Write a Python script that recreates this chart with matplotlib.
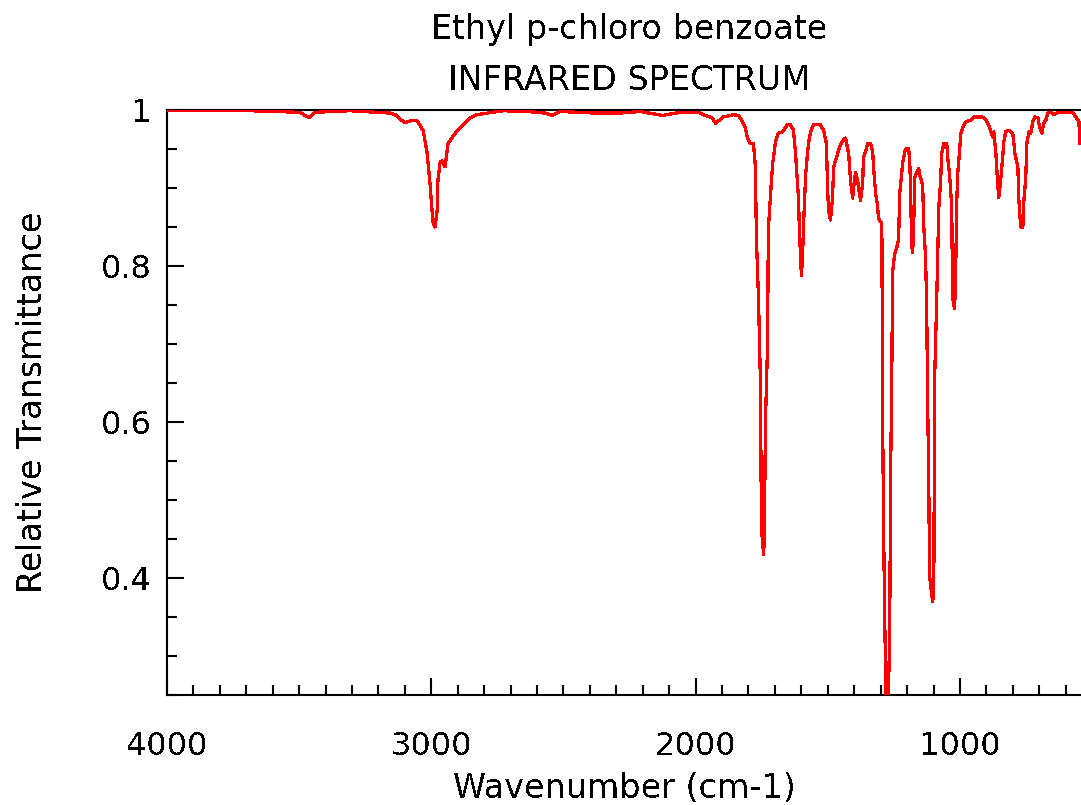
import numpy as np
import matplotlib
matplotlib.use("Agg")
import matplotlib.pyplot as plt
from matplotlib.ticker import MultipleLocator, FixedLocator

plt.rcParams['font.family'] = ['DejaVu Sans']
plt.rcParams['text.antialiased'] = False

# wavenumber (cm-1) and relative transmittance
wavenumber = [4000, 3876, 3687, 3497, 3463, 3440, 3308, 3156, 3137, 3118,
              3099, 3088, 3069, 3054, 3031, 3016, 3005, 2997, 2993, 2986,
              2978, 2975, 2967, 2959, 2948, 2937, 2910, 2884, 2853, 2827,
              2728, 2637, 2569, 2543, 2512, 2380, 2285, 2209, 2126, 2058,
              1990, 1971, 1937, 1925, 1914, 1895, 1857, 1838, 1823, 1812,
              1804, 1793, 1781, 1774, 1770, 1762, 1755, 1751, 1743, 1740,
              1736, 1728, 1725, 1717, 1709, 1698, 1687, 1671, 1653, 1641,
              1630, 1622, 1611, 1607, 1600, 1596, 1592, 1584, 1577, 1573,
              1565, 1554, 1528, 1516, 1505, 1501, 1497, 1490, 1482, 1478,
              1463, 1452, 1440, 1433, 1421, 1414, 1406, 1402, 1395, 1387,
              1384, 1376, 1368, 1365, 1357, 1349, 1338, 1330, 1327, 1319,
              1312, 1308, 1296, 1295, 1293, 1289, 1285, 1278, 1274, 1270,
              1266, 1262, 1258, 1255, 1247, 1240, 1232, 1228, 1221, 1217,
              1209, 1202, 1194, 1190, 1187, 1183, 1179, 1175, 1171, 1164,
              1156, 1152, 1141, 1137, 1130, 1126, 1122, 1118, 1115, 1107,
              1103, 1099, 1097, 1096, 1088, 1080, 1073, 1069, 1061, 1050,
              1046, 1039, 1031, 1028, 1020, 1016, 1012, 1008, 1001, 997,
              989, 982, 970, 959, 948, 914, 902, 891, 876, 872,
              864, 857, 853, 846, 838, 834, 827, 815, 800, 792,
              781, 777, 770, 762, 758, 751, 747, 739, 732, 724,
              717, 705, 698, 690, 683, 675, 668, 656, 645, 626,
              573, 562, 550, 546]
transmittance = [1.000, 0.999, 0.999, 0.997, 0.990, 0.997, 0.999, 0.996, 0.994, 0.988,
                 0.984, 0.985, 0.987, 0.986, 0.974, 0.945, 0.906, 0.870, 0.855, 0.850,
                 0.871, 0.910, 0.933, 0.935, 0.927, 0.957, 0.970, 0.980, 0.990, 0.994,
                 0.999, 0.998, 0.996, 0.993, 0.998, 0.996, 0.996, 0.998, 0.993, 0.997,
                 0.997, 0.994, 0.990, 0.983, 0.986, 0.991, 0.994, 0.993, 0.985, 0.977,
                 0.964, 0.957, 0.957, 0.927, 0.835, 0.756, 0.653, 0.464, 0.430, 0.451,
                 0.599, 0.698, 0.846, 0.890, 0.930, 0.959, 0.970, 0.972, 0.981, 0.981,
                 0.974, 0.944, 0.887, 0.842, 0.788, 0.807, 0.850, 0.916, 0.944, 0.957,
                 0.972, 0.981, 0.981, 0.974, 0.957, 0.901, 0.871, 0.859, 0.887, 0.927,
                 0.944, 0.955, 0.962, 0.964, 0.944, 0.910, 0.887, 0.901, 0.920, 0.910,
                 0.901, 0.884, 0.906, 0.940, 0.946, 0.957, 0.957, 0.946, 0.927, 0.893,
                 0.878, 0.861, 0.855, 0.826, 0.620, 0.470, 0.353, 0.220, 0.220, 0.263,
                 0.322, 0.543, 0.653, 0.792, 0.816, 0.822, 0.835, 0.893, 0.916, 0.932,
                 0.946, 0.951, 0.951, 0.933, 0.904, 0.829, 0.817, 0.852, 0.913, 0.920,
                 0.925, 0.916, 0.904, 0.852, 0.810, 0.752, 0.620, 0.524, 0.404, 0.379,
                 0.370, 0.387, 0.540, 0.653, 0.756, 0.875, 0.910, 0.944, 0.957, 0.957,
                 0.938, 0.916, 0.875, 0.759, 0.745, 0.797, 0.884, 0.920, 0.949, 0.970,
                 0.978, 0.983, 0.986, 0.987, 0.991, 0.991, 0.987, 0.981, 0.965, 0.972,
                 0.944, 0.904, 0.888, 0.910, 0.940, 0.959, 0.972, 0.974, 0.970, 0.944,
                 0.927, 0.884, 0.850, 0.850, 0.884, 0.913, 0.957, 0.972, 0.970, 0.985,
                 0.991, 0.990, 0.977, 0.970, 0.983, 0.987, 0.996, 0.997, 0.994, 0.997,
                 0.997, 0.991, 0.985, 0.957]

y_ticks = [0.4, 0.6, 0.8, 1.0]
y_ticklabels = ['0.4', '0.6', '0.8', '1']
x_ticks = [4000, 3000, 2000, 1000]

fig = plt.figure(figsize=(10.81, 8.05), dpi=100)
ax = fig.add_axes([0.1545, 0.1366, 0.8455, 0.7268])

ax.plot(wavenumber, transmittance, color='#ff0000', lw=1.6,
        antialiased=False, zorder=3)

ax.set_xlim(4000, 542)
ax.set_ylim(0.25, 1.0)

ax.xaxis.set_major_locator(FixedLocator(x_ticks))
ax.xaxis.set_minor_locator(MultipleLocator(100))
ax.set_yticks(y_ticks)
ax.set_yticklabels(y_ticklabels)
ax.yaxis.set_minor_locator(MultipleLocator(0.05))

ax.tick_params(which='both', direction='in', width=1.5, labelsize=23)
ax.tick_params(which='major', length=12)
ax.tick_params(which='minor', length=7)
ax.tick_params(axis='x', which='major', pad=26)
ax.tick_params(axis='y', which='major', pad=11)

for side in ['left', 'bottom', 'top']:
    ax.spines[side].set_linewidth(1.5)
ax.spines['right'].set_visible(False)

ax.set_xlabel('Wavenumber (cm-1)', fontsize=24, labelpad=7)
ax.set_ylabel('Relative Transmittance', fontsize=24, labelpad=37)

fig.text(0.582, 1 - 30 / 805, 'Ethyl p-chloro benzoate', fontsize=24,
         ha='center', va='center')
fig.text(0.582, 1 - 80 / 805, 'INFRARED SPECTRUM', fontsize=24,
         ha='center', va='center')

fig.savefig('out.png', dpi=100)
